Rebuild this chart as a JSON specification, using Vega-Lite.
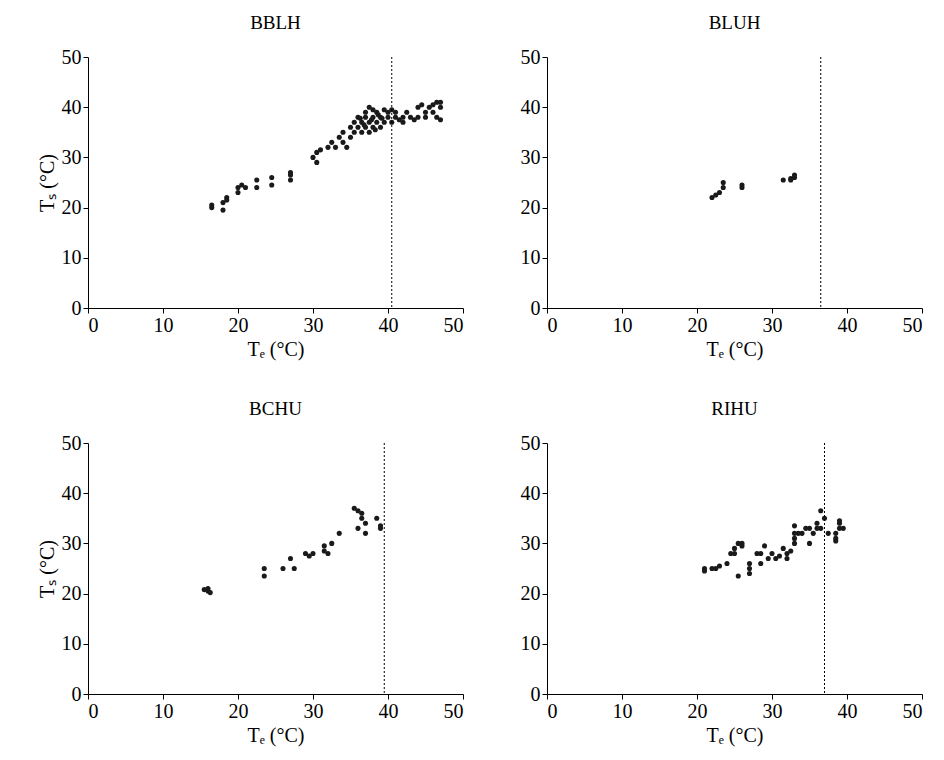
{
"$schema":"https://vega.github.io/schema/vega-lite/v6.json",
"padding":{"left":37,"top":14,"right":5,"bottom":5},
"config":{"font":"Liberation Serif","view":{"stroke":null},"axis":{"grid":false,"labelFontSize":20,"titleFontSize":20,"titleFontWeight":"normal","labelColor":"black","titleColor":"black","domainColor":"black","tickColor":"black","labelFont":"Liberation Serif","titleFont":"Liberation Serif","titlePadding":4},"title":{"fontSize":19,"fontWeight":"normal","font":"Liberation Serif","color":"black","offset":14},"concat":{"spacing":41}},
"datasets":{
"pts":[
{"p":"BBLH","te":16.5,"ts":20.5},{"p":"BBLH","te":16.5,"ts":20},{"p":"BBLH","te":18,"ts":19.5},{"p":"BBLH","te":18,"ts":21},{"p":"BBLH","te":18.5,"ts":21.5},{"p":"BBLH","te":18.5,"ts":22},{"p":"BBLH","te":20,"ts":23},{"p":"BBLH","te":20,"ts":24},{"p":"BBLH","te":20.5,"ts":24.5},{"p":"BBLH","te":21,"ts":24},{"p":"BBLH","te":22.5,"ts":25.5},{"p":"BBLH","te":22.5,"ts":24},{"p":"BBLH","te":24.5,"ts":24.5},{"p":"BBLH","te":24.5,"ts":26},{"p":"BBLH","te":27,"ts":25.5},{"p":"BBLH","te":27,"ts":26.5},{"p":"BBLH","te":27,"ts":27},{"p":"BBLH","te":30,"ts":30},{"p":"BBLH","te":30.5,"ts":29},{"p":"BBLH","te":30.5,"ts":31},{"p":"BBLH","te":31,"ts":31.5},{"p":"BBLH","te":32,"ts":32},{"p":"BBLH","te":32.5,"ts":33},{"p":"BBLH","te":33,"ts":32},{"p":"BBLH","te":33.5,"ts":34},{"p":"BBLH","te":34,"ts":33},{"p":"BBLH","te":34,"ts":35},{"p":"BBLH","te":34.5,"ts":32},{"p":"BBLH","te":35,"ts":36},{"p":"BBLH","te":35,"ts":34},{"p":"BBLH","te":35.5,"ts":37},{"p":"BBLH","te":35.5,"ts":35},{"p":"BBLH","te":36,"ts":36},{"p":"BBLH","te":36,"ts":38},{"p":"BBLH","te":36.5,"ts":37},{"p":"BBLH","te":36.5,"ts":35},{"p":"BBLH","te":37,"ts":36},{"p":"BBLH","te":37,"ts":38},{"p":"BBLH","te":37,"ts":39},{"p":"BBLH","te":37.5,"ts":35},{"p":"BBLH","te":37.5,"ts":37},{"p":"BBLH","te":37.5,"ts":40},{"p":"BBLH","te":38,"ts":36},{"p":"BBLH","te":38,"ts":38},{"p":"BBLH","te":38,"ts":39.5},{"p":"BBLH","te":38.5,"ts":37},{"p":"BBLH","te":38.5,"ts":39},{"p":"BBLH","te":39,"ts":36},{"p":"BBLH","te":39,"ts":38},{"p":"BBLH","te":39.5,"ts":37},{"p":"BBLH","te":39.5,"ts":39.5},{"p":"BBLH","te":40,"ts":38},{"p":"BBLH","te":40,"ts":39},{"p":"BBLH","te":40.5,"ts":37},{"p":"BBLH","te":40.5,"ts":39.5},{"p":"BBLH","te":41,"ts":38},{"p":"BBLH","te":41,"ts":39},{"p":"BBLH","te":41.5,"ts":37.5},{"p":"BBLH","te":42,"ts":38},{"p":"BBLH","te":42,"ts":37},{"p":"BBLH","te":42.5,"ts":39},{"p":"BBLH","te":43,"ts":38},{"p":"BBLH","te":43.5,"ts":37.5},{"p":"BBLH","te":44,"ts":38},{"p":"BBLH","te":44,"ts":40},{"p":"BBLH","te":44.5,"ts":40.5},{"p":"BBLH","te":45,"ts":39},{"p":"BBLH","te":45,"ts":38},{"p":"BBLH","te":45.5,"ts":40},{"p":"BBLH","te":46,"ts":39},{"p":"BBLH","te":46,"ts":40.5},{"p":"BBLH","te":46.5,"ts":41},{"p":"BBLH","te":46.5,"ts":38},{"p":"BBLH","te":47,"ts":37.5},{"p":"BBLH","te":47,"ts":40},{"p":"BBLH","te":47,"ts":41},{"p":"BBLH","te":36.8,"ts":36.5},{"p":"BBLH","te":37.8,"ts":37.5},{"p":"BBLH","te":38.3,"ts":35.5},{"p":"BBLH","te":39.2,"ts":37.8},{"p":"BBLH","te":36.3,"ts":37.8},{"p":"BBLH","te":38.7,"ts":38.5},
{"p":"BLUH","te":22,"ts":22},{"p":"BLUH","te":22.5,"ts":22.5},{"p":"BLUH","te":23,"ts":23},{"p":"BLUH","te":23.5,"ts":24},{"p":"BLUH","te":23.5,"ts":25},{"p":"BLUH","te":26,"ts":24},{"p":"BLUH","te":26,"ts":24.5},{"p":"BLUH","te":31.5,"ts":25.5},{"p":"BLUH","te":32.5,"ts":25.5},{"p":"BLUH","te":33,"ts":26},{"p":"BLUH","te":33,"ts":26.5},{"p":"BLUH","te":32.5,"ts":25.8},
{"p":"BCHU","te":15.5,"ts":20.8},{"p":"BCHU","te":16,"ts":20.5},{"p":"BCHU","te":16.3,"ts":20.2},{"p":"BCHU","te":16,"ts":21},{"p":"BCHU","te":23.5,"ts":23.5},{"p":"BCHU","te":23.5,"ts":25},{"p":"BCHU","te":26,"ts":25},{"p":"BCHU","te":27,"ts":27},{"p":"BCHU","te":27.5,"ts":25},{"p":"BCHU","te":29,"ts":28},{"p":"BCHU","te":29.5,"ts":27.5},{"p":"BCHU","te":30,"ts":28},{"p":"BCHU","te":31.5,"ts":28.5},{"p":"BCHU","te":31.5,"ts":29.5},{"p":"BCHU","te":32,"ts":28},{"p":"BCHU","te":32.5,"ts":30},{"p":"BCHU","te":33.5,"ts":32},{"p":"BCHU","te":35.5,"ts":37},{"p":"BCHU","te":36,"ts":36.5},{"p":"BCHU","te":36,"ts":33},{"p":"BCHU","te":36.5,"ts":35},{"p":"BCHU","te":36.5,"ts":36},{"p":"BCHU","te":37,"ts":34},{"p":"BCHU","te":37,"ts":32},{"p":"BCHU","te":38.5,"ts":35},{"p":"BCHU","te":39,"ts":33.5},{"p":"BCHU","te":39,"ts":33},
{"p":"RIHU","te":21,"ts":24.5},{"p":"RIHU","te":21,"ts":25},{"p":"RIHU","te":22,"ts":25},{"p":"RIHU","te":22.5,"ts":25},{"p":"RIHU","te":23,"ts":25.5},{"p":"RIHU","te":24,"ts":26},{"p":"RIHU","te":24.5,"ts":28},{"p":"RIHU","te":25,"ts":28},{"p":"RIHU","te":25,"ts":29},{"p":"RIHU","te":25.5,"ts":23.5},{"p":"RIHU","te":25.5,"ts":30},{"p":"RIHU","te":26,"ts":29.5},{"p":"RIHU","te":26,"ts":30},{"p":"RIHU","te":27,"ts":26},{"p":"RIHU","te":27,"ts":25},{"p":"RIHU","te":27,"ts":24},{"p":"RIHU","te":28,"ts":28},{"p":"RIHU","te":28.5,"ts":26},{"p":"RIHU","te":28.5,"ts":28},{"p":"RIHU","te":29,"ts":29.5},{"p":"RIHU","te":29.5,"ts":27},{"p":"RIHU","te":30,"ts":28},{"p":"RIHU","te":30.5,"ts":27},{"p":"RIHU","te":31,"ts":27.5},{"p":"RIHU","te":31.5,"ts":29},{"p":"RIHU","te":32,"ts":28},{"p":"RIHU","te":32,"ts":27},{"p":"RIHU","te":32.5,"ts":28.5},{"p":"RIHU","te":33,"ts":30},{"p":"RIHU","te":33,"ts":31},{"p":"RIHU","te":33,"ts":32},{"p":"RIHU","te":33,"ts":33.5},{"p":"RIHU","te":33.5,"ts":32},{"p":"RIHU","te":34,"ts":32},{"p":"RIHU","te":34.5,"ts":33},{"p":"RIHU","te":35,"ts":30},{"p":"RIHU","te":35,"ts":33},{"p":"RIHU","te":35.5,"ts":32},{"p":"RIHU","te":36,"ts":33},{"p":"RIHU","te":36,"ts":34},{"p":"RIHU","te":36.5,"ts":33},{"p":"RIHU","te":36.5,"ts":36.5},{"p":"RIHU","te":37,"ts":35},{"p":"RIHU","te":37.5,"ts":32},{"p":"RIHU","te":38.5,"ts":30.5},{"p":"RIHU","te":38.5,"ts":32},{"p":"RIHU","te":39,"ts":33},{"p":"RIHU","te":39,"ts":34},{"p":"RIHU","te":39,"ts":34.5},{"p":"RIHU","te":39.5,"ts":33},{"p":"RIHU","te":38.5,"ts":31}
],
"rules":[{"p":"BBLH","v":40.5},{"p":"BLUH","v":36.5},{"p":"BCHU","v":39.5},{"p":"RIHU","v":37}]
},
"columns":2,
"concat":[
{"title":"BBLH","width":375,"height":251,"layer":[
{"data":{"name":"pts"},"transform":[{"filter":"datum.p=='BBLH'"}],"mark":{"type":"circle","size":26,"color":"#1a1a1a","opacity":1},"encoding":{"x":{"field":"te","type":"quantitative","scale":{"domain":[0,50]},"axis":{"title":"Tₑ (°C)","tickCount":5}},"y":{"field":"ts","type":"quantitative","scale":{"domain":[0,50]},"axis":{"title":"Tₛ (°C)","tickCount":5}}}},
{"data":{"name":"rules"},"transform":[{"filter":"datum.p=='BBLH'"}],"mark":{"type":"rule","strokeDash":[2,2],"color":"black"},"encoding":{"x":{"field":"v","type":"quantitative"}}}]},
{"title":"BLUH","width":375,"height":251,"layer":[
{"data":{"name":"pts"},"transform":[{"filter":"datum.p=='BLUH'"}],"mark":{"type":"circle","size":26,"color":"#1a1a1a","opacity":1},"encoding":{"x":{"field":"te","type":"quantitative","scale":{"domain":[0,50]},"axis":{"title":"Tₑ (°C)","tickCount":5}},"y":{"field":"ts","type":"quantitative","scale":{"domain":[0,50]},"axis":{"title":null,"tickCount":5,"minExtent":42}}}},
{"data":{"name":"rules"},"transform":[{"filter":"datum.p=='BLUH'"}],"mark":{"type":"rule","strokeDash":[2,2],"color":"black"},"encoding":{"x":{"field":"v","type":"quantitative"}}}]},
{"title":"BCHU","width":375,"height":251,"layer":[
{"data":{"name":"pts"},"transform":[{"filter":"datum.p=='BCHU'"}],"mark":{"type":"circle","size":26,"color":"#1a1a1a","opacity":1},"encoding":{"x":{"field":"te","type":"quantitative","scale":{"domain":[0,50]},"axis":{"title":"Tₑ (°C)","tickCount":5}},"y":{"field":"ts","type":"quantitative","scale":{"domain":[0,50]},"axis":{"title":"Tₛ (°C)","tickCount":5}}}},
{"data":{"name":"rules"},"transform":[{"filter":"datum.p=='BCHU'"}],"mark":{"type":"rule","strokeDash":[2,2],"color":"black"},"encoding":{"x":{"field":"v","type":"quantitative"}}}]},
{"title":"RIHU","width":375,"height":251,"layer":[
{"data":{"name":"pts"},"transform":[{"filter":"datum.p=='RIHU'"}],"mark":{"type":"circle","size":26,"color":"#1a1a1a","opacity":1},"encoding":{"x":{"field":"te","type":"quantitative","scale":{"domain":[0,50]},"axis":{"title":"Tₑ (°C)","tickCount":5}},"y":{"field":"ts","type":"quantitative","scale":{"domain":[0,50]},"axis":{"title":null,"tickCount":5,"minExtent":42}}}},
{"data":{"name":"rules"},"transform":[{"filter":"datum.p=='RIHU'"}],"mark":{"type":"rule","strokeDash":[2,2],"color":"black"},"encoding":{"x":{"field":"v","type":"quantitative"}}}]}
]
}
